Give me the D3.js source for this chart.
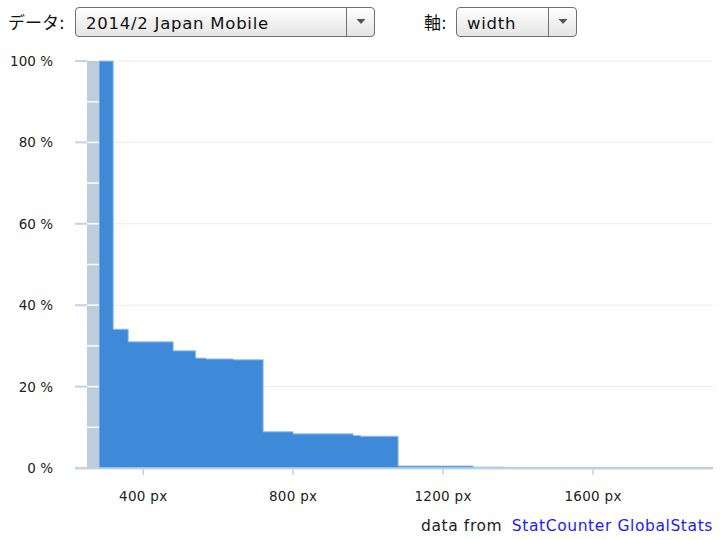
<!DOCTYPE html>
<html>
<head>
<meta charset="utf-8">
<script src="https://cdn.jsdelivr.net/npm/d3@7"></script>
<style>
  body { margin: 0; background: #fff; }
  svg { display: block; font-family: "DejaVu Sans", "Noto Sans CJK JP", sans-serif; }
</style>
</head>
<body>
<svg id="chart" width="720" height="540"></svg>
<script>
// share of screens (%) whose width is at least the step start
const stepStarts = [282, 320, 360, 480, 540, 568, 640, 720, 800, 960, 980, 1080, 1280, 1366];
const shares     = [100, 34.1, 31.0, 28.8, 27.0, 26.8, 26.6, 8.9, 8.4, 8.0, 7.8, 0.5, 0.2, 0.05];
const maxWidth = 1920;
const xTicks = [400, 800, 1200, 1600];
const yTicks = [0, 20, 40, 60, 80, 100];
const yMinorTicks = d3.range(0, 101, 10);

function main() {
    let svg = d3.select("#chart");

    let left = 99, right = 713, top = 61, bottom = 468;

    let x = d3.scaleLinear().domain([stepStarts[0], maxWidth]).range([left, right]);
    let y = d3.scaleLinear().domain([0, 100]).range([bottom, top]);

    // grid lines
    svg.append("g")
        .selectAll("line")
        .data(yTicks.filter(d => d > 0))
        .join("line")
        .attr("x1", left).attr("x2", right)
        .attr("y1", d => y(d)).attr("y2", d => y(d))
        .attr("stroke", "#e9ebee")
        .attr("stroke-width", 1);

    // step area
    let points = stepStarts.map((w, i) => [w, shares[i]]);
    points.push([maxWidth, shares[shares.length - 1]]);

    let area = d3.area()
        .curve(d3.curveStepAfter)
        .x(d => x(d[0]))
        .y0(y(0))
        .y1(d => y(d[1]));

    svg.append("path")
        .datum(points)
        .attr("d", area)
        .attr("fill", "#3e8ad9")
        .attr("stroke", "#9cc2ea")
        .attr("stroke-width", 1);

    // y axis: grey band with white minor marks and light major ticks
    svg.append("rect")
        .attr("x", left - 12).attr("y", top)
        .attr("width", 12).attr("height", bottom - top)
        .attr("fill", "#bccddc");

    svg.append("g")
        .selectAll("line")
        .data(yMinorTicks.filter(d => d > 0 && d < 100))
        .join("line")
        .attr("x1", left - 12).attr("x2", left)
        .attr("y1", d => y(d)).attr("y2", d => y(d))
        .attr("stroke", "#fff")
        .attr("stroke-width", 1.5);

    svg.append("g")
        .selectAll("line")
        .data(yTicks)
        .join("line")
        .attr("x1", left - 24).attr("x2", left - 12)
        .attr("y1", d => y(d)).attr("y2", d => y(d))
        .attr("stroke", "#c3d3e3")
        .attr("stroke-width", 2);

    svg.append("g")
        .selectAll("text")
        .data(yTicks)
        .join("text")
        .attr("x", 53)
        .attr("y", d => y(d) + 5)
        .attr("text-anchor", "end")
        .attr("font-size", "13.5px")
        .attr("fill", "#222")
        .text(d => d + " %");

    // x axis
    svg.append("line")
        .attr("x1", left - 24).attr("x2", right)
        .attr("y1", bottom + 0.5).attr("y2", bottom + 0.5)
        .attr("stroke", "#c3d3e3")
        .attr("stroke-width", 2);

    svg.append("g")
        .selectAll("line")
        .data(xTicks)
        .join("line")
        .attr("x1", d => x(d)).attr("x2", d => x(d))
        .attr("y1", bottom + 1).attr("y2", bottom + 7)
        .attr("stroke", "#c3d3e3")
        .attr("stroke-width", 1.5);

    svg.append("g")
        .selectAll("text")
        .data(xTicks)
        .join("text")
        .attr("x", d => x(d))
        .attr("y", 501)
        .attr("text-anchor", "middle")
        .attr("font-size", "13.5px")
        .attr("letter-spacing", "0.3px")
        .attr("fill", "#222")
        .text(d => d + " px");

    // credit
    let credit = svg.append("text")
        .attr("x", 713).attr("y", 531)
        .attr("text-anchor", "end")
        .attr("font-size", "15.5px")
        .attr("letter-spacing", "0.6px");
    credit.append("tspan").attr("fill", "#222").text("data from ");
    credit.append("tspan").attr("fill", "#1a1aff").attr("dx", 4).text("StatCounter GlobalStats");

    // controls (drawn as svg)
    let defs = svg.append("defs");
    let grad = defs.append("linearGradient")
        .attr("id", "btn").attr("x1", 0).attr("x2", 0).attr("y1", 0).attr("y2", 1);
    grad.append("stop").attr("offset", "0%").attr("stop-color", "#ffffff");
    grad.append("stop").attr("offset", "100%").attr("stop-color", "#e4e4e4");

    function selectBox(label, labelX, bx, bw, value) {
        svg.append("text")
            .attr("x", labelX).attr("y", 29)
            .attr("font-size", "17px")
            .attr("fill", "#111")
            .text(label);
        svg.append("rect")
            .attr("x", bx + 0.5).attr("y", 7.5)
            .attr("width", bw).attr("height", 29)
            .attr("rx", 3.5)
            .attr("fill", "url(#btn)")
            .attr("stroke", "#6f6f6f");
        svg.append("line")
            .attr("x1", bx + bw - 27.5).attr("x2", bx + bw - 27.5)
            .attr("y1", 8).attr("y2", 36)
            .attr("stroke", "#6f6f6f");
        let cx = bx + bw - 13;
        svg.append("path")
            .attr("d", `M${cx - 4.5},19 L${cx + 4.5},19 L${cx},24 Z`)
            .attr("fill", "#555");
        svg.append("text")
            .attr("x", bx + 11).attr("y", 29)
            .attr("font-size", "16.5px")
            .attr("letter-spacing", "0.75px")
            .attr("fill", "#111")
            .text(value);
    }

    selectBox("データ:", 8, 75, 299, "2014/2 Japan Mobile");
    selectBox("軸:", 424, 456, 120, "width");
}

main();
</script>
</body>
</html>
